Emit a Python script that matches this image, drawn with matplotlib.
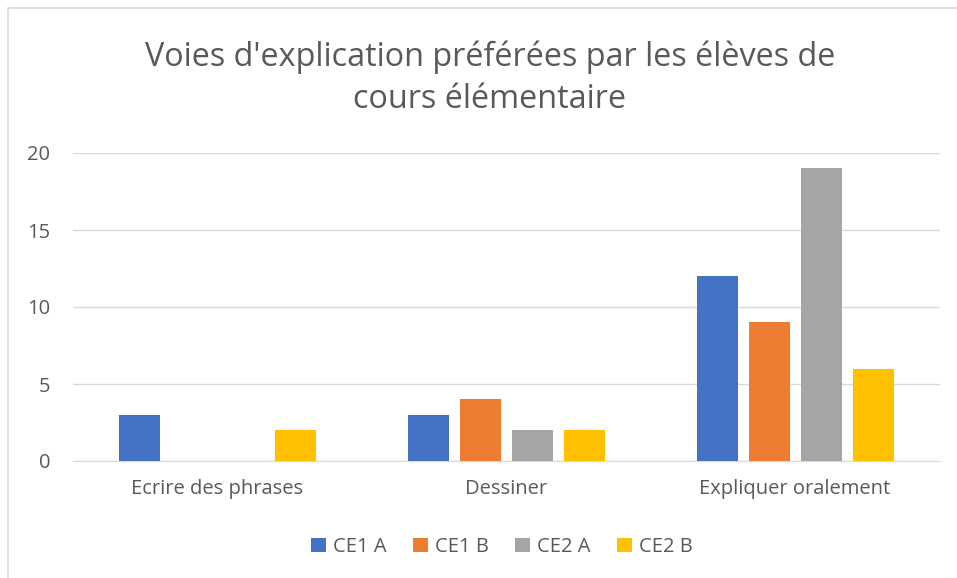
import numpy as np
import matplotlib.pyplot as plt
from matplotlib.patches import Rectangle

plt.rcParams['font.family'] = ['Open Sans', 'DejaVu Sans']

categories = ['Ecrire des phrases', 'Dessiner', 'Expliquer oralement']
series = ['CE1 A', 'CE1 B', 'CE2 A', 'CE2 B']
values = {
    'CE1 A': [3, 3, 12],
    'CE1 B': [0, 4, 9],
    'CE2 A': [0, 2, 19],
    'CE2 B': [2, 2, 6],
}
colors = ['#4472c4', '#ed7d31', '#a5a5a5', '#ffc000']
txt = '#595959'

fig = plt.figure(figsize=(9.57, 5.78), dpi=100)
W, H = 957, 578

# chart frame (cut at right/bottom like the screenshot)
fig.patches.append(Rectangle((8 / W, -0.1), 1.2, 1 - 8 / H + 0.1,
                             transform=fig.transFigure, fill=False,
                             edgecolor='#d9d9d9', linewidth=1.2))

ax = fig.add_axes([72.5 / W, 1 - 461 / H, (939.5 - 72.5) / W, (461 - 153) / H])

x = np.arange(len(categories))
step = 52 / 289
width = 41 / 289
for i, (s, c) in enumerate(zip(series, colors)):
    ax.bar(x + (i - 1.5) * step, values[s], width, color=c, label=s, zorder=3)

ax.set_xlim(-0.5, 2.5)
ax.set_ylim(0, 20)
ax.set_yticks([0, 5, 10, 15, 20])
ax.yaxis.grid(True, color='#d9d9d9', linewidth=1)
ax.set_axisbelow(True)
for sp in ['top', 'right', 'left']:
    ax.spines[sp].set_visible(False)
ax.spines['bottom'].set_color('#d9d9d9')
ax.tick_params(axis='both', length=0, labelsize=14.5, colors=txt)
ax.tick_params(axis='y', pad=16)
ax.tick_params(axis='x', pad=13)
ax.set_xticks(x)
ax.set_xticklabels(categories)

fig.text(490 / W, 1 - 57 / H, "Voies d'explication préférées par les élèves de",
         ha='center', va='center', fontsize=23.3, color=txt)
fig.text(490 / W, 1 - 100 / H, "cours élémentaire",
         ha='center', va='center', fontsize=23.3, color=txt)

fig.legend(loc='center', bbox_to_anchor=(502 / W, 1 - 547 / H), ncol=4,
           frameon=False, fontsize=14.5, labelcolor=txt,
           handlelength=0.75, handleheight=0.75, handletextpad=0.35,
           columnspacing=1.3)

fig.savefig('out.png', dpi=100, facecolor='white')
